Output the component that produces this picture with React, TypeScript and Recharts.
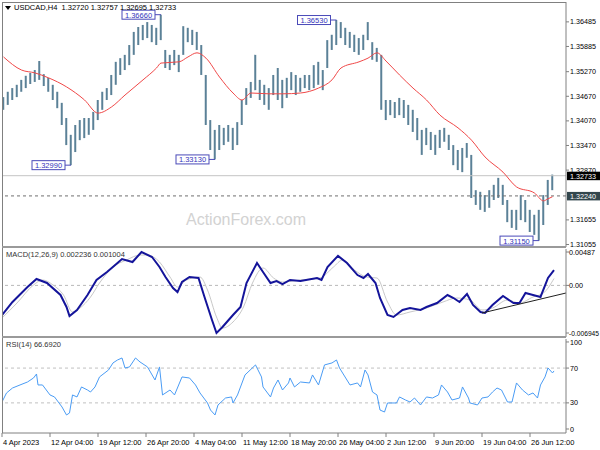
import React from 'react';
import {
    ComposedChart,
    Bar,
    Line,
    XAxis,
    YAxis,
    ReferenceLine,
    ReferenceDot
} from 'recharts';

const FONT = '"Liberation Sans", Arial, sans-serif';
const AXIS = '#808080';

// price bars, every 3rd H4 bar (k -> bar index 1 + 3k)
const barHighs = [
    1.3465, 1.3478, 1.3487, 1.3495, 1.3507, 1.3517, 1.3524, 1.3531, 1.3553, 1.3521,
    1.3512, 1.3495, 1.3478, 1.3451, 1.3414, 1.3373, 1.3397, 1.3409, 1.3414, 1.3414,
    1.3429, 1.3458, 1.3478, 1.3487, 1.3519, 1.3551, 1.3560, 1.3568, 1.3592, 1.3624,
    1.3636, 1.3641, 1.3648, 1.3641, 1.3634, 1.3666, 1.3580, 1.3568, 1.3580, 1.3568,
    1.3638, 1.3634, 1.3629, 1.3624, 1.3592, 1.3519, 1.3409, 1.3385, 1.3397, 1.3390,
    1.3397, 1.3390, 1.3404, 1.3458, 1.3487, 1.3502, 1.3568, 1.3507, 1.3495, 1.3487,
    1.3519, 1.3536, 1.3507, 1.3512, 1.3526, 1.3519, 1.3512, 1.3519, 1.3519, 1.3543,
    1.3551, 1.3531, 1.3604, 1.3617, 1.3653, 1.3648, 1.3634, 1.3624, 1.3617, 1.3609,
    1.3617, 1.3648, 1.3599, 1.3585, 1.3568, 1.3458, 1.3458, 1.3453, 1.3463, 1.3458,
    1.3446, 1.3434, 1.3414, 1.3385, 1.3390, 1.3380, 1.3373, 1.3385, 1.3390, 1.3373,
    1.3348, 1.3336, 1.3341, 1.3353, 1.3324, 1.3238, 1.3234, 1.3226, 1.3238, 1.3251,
    1.3268, 1.3251, 1.3214, 1.3190, 1.3190, 1.3226, 1.3214, 1.3190, 1.3178, 1.3190,
    1.3226, 1.3263, 1.3276
];
const barLows = [
    1.3434, 1.3446, 1.3458, 1.3465, 1.3478, 1.3487, 1.3497, 1.3502, 1.3507, 1.3492,
    1.3478, 1.3458, 1.3438, 1.3397, 1.3348, 1.3299, 1.3331, 1.3360, 1.3365, 1.3373,
    1.3385, 1.3409, 1.3434, 1.3458, 1.3470, 1.3495, 1.3519, 1.3531, 1.3543, 1.3568,
    1.3592, 1.3604, 1.3609, 1.3599, 1.3592, 1.3604, 1.3536, 1.3531, 1.3543, 1.3526,
    1.3568, 1.3599, 1.3592, 1.3580, 1.3519, 1.3397, 1.3336, 1.3313, 1.3336, 1.3348,
    1.3356, 1.3336, 1.3348, 1.3397, 1.3446, 1.3463, 1.3482, 1.3458, 1.3446, 1.3434,
    1.3470, 1.3458, 1.3438, 1.3463, 1.3482, 1.3470, 1.3478, 1.3487, 1.3482, 1.3487,
    1.3495, 1.3482, 1.3536, 1.3580, 1.3592, 1.3609, 1.3592, 1.3585, 1.3575, 1.3568,
    1.3580, 1.3604, 1.3556, 1.3551, 1.3434, 1.3409, 1.3421, 1.3414, 1.3421, 1.3414,
    1.3397, 1.3380, 1.3360, 1.3324, 1.3348, 1.3336, 1.3324, 1.3341, 1.3356, 1.3336,
    1.3299, 1.3287, 1.3282, 1.3317, 1.3219, 1.3202, 1.3190, 1.3185, 1.3195, 1.3214,
    1.3219, 1.3202, 1.3160, 1.3146, 1.3141, 1.3165, 1.3160, 1.3136, 1.3129, 1.3115,
    1.3153, 1.3202, 1.3238
];

// moving average, read at some of the bars above
const maBars = [0, 4, 7, 10, 14, 18, 21, 24, 27, 31, 34, 35, 39, 41, 43, 45, 48, 51, 53, 55, 59, 62, 66, 70, 73, 75, 79, 81, 83, 85, 88, 91, 94, 97, 101, 104, 107, 111, 114, 118, 120, 121, 122];
const maValues = [
    1.3563, 1.3531, 1.3524, 1.3512, 1.3490, 1.3458, 1.3426, 1.3441, 1.3470, 1.3507,
    1.3536, 1.3548, 1.3551, 1.3563, 1.3573, 1.3560, 1.3514, 1.3475, 1.3458, 1.3475,
    1.3473, 1.3473, 1.3475, 1.3487, 1.3507, 1.3536, 1.3551, 1.3560, 1.3573, 1.3553,
    1.3519, 1.3487, 1.3458, 1.3421, 1.3390, 1.3360, 1.3319, 1.3282, 1.3246, 1.3231,
    1.3212, 1.3217, 1.3222
];

const swingBars = [35, 15, 47, 74, 119];
const swingPrices = [1.3666, 1.3299, 1.3313, 1.3653, 1.3115];

const lastPrice = 1.32733;
const markPrice = 1.3224;
const priceTicks = [1.36485, 1.35885, 1.3527, 1.3467, 1.3407, 1.3347, 1.3287, 1.31655, 1.31055];

// MACD (bar index positions)
const macdAt = [0, 7, 17, 23, 30, 39, 43, 45, 50, 57, 63, 70, 77, 80, 87, 93, 100, 105, 109, 114, 117, 120, 125, 131, 135, 140, 143, 147, 154, 159, 163, 170, 174, 179, 183, 187, 192, 199, 210, 213, 217, 224, 230, 237, 241, 244, 249, 252, 257, 261, 267, 272, 279, 283, 290, 297, 301, 305, 310, 314, 319, 322, 327, 334, 341, 345, 349, 354, 359, 364, 368];
const macdValues = [
    -0.00432, -0.00242, -0.00024, 0.00093, 0.00035, -0.0014, -0.00315, -0.00447, -0.00359, -0.0014,
    0.00079, 0.00195, 0.00327, 0.00385, 0.00341, 0.00487, 0.00414, 0.00268, 0.00122, -0.00038,
    -0.00097, 0.00049, 0.00122, 0.00108, -0.0017, -0.00505, -0.00694, -0.00607, -0.00432, -0.00315,
    0.00035, 0.00327, 0.00195, 0.00035, 0.00064, 0.0002, 0.00079, 0.00064, 0.00108, 0.00079,
    0.00268, 0.0043, 0.00327, 0.00151, 0.00108, 0.00166, 0.00035, -0.00184, -0.00432, -0.00461,
    -0.00359, -0.0033, -0.00359, -0.00315, -0.00257, -0.0014, -0.00184, -0.00242, -0.00126, -0.00286,
    -0.00388, -0.00403, -0.00286, -0.00155, -0.00257, -0.00257, -0.00111, -0.0014, -0.00169, 0.00108,
    0.00224
];
const signalAt = [0, 10, 21, 27, 34, 41, 47, 52, 59, 65, 74, 83, 92, 97, 105, 112, 117, 123, 132, 137, 143, 147, 154, 161, 167, 174, 181, 187, 199, 212, 221, 227, 235, 243, 250, 257, 263, 272, 283, 294, 303, 312, 320, 327, 337, 345, 354, 361, 368];
const signalValues = [
    -0.00476, -0.00257, 0.00006, 0.00079, 0.00006, -0.0014, -0.00388, -0.0033, -0.0017, 0.00035,
    0.00268, 0.0037, 0.00443, 0.00443, 0.00341, 0.00122, -0.00024, 0.00079, 0.00122, -0.00067,
    -0.00461, -0.00622, -0.00534, -0.00315, 0.00035, 0.00254, 0.00108, 0.00049, 0.00079, 0.00108,
    0.00268, 0.0037, 0.00224, 0.00122, 0.00108, -0.00242, -0.00432, -0.00388, -0.0033, -0.00242,
    -0.00184, -0.00213, -0.00359, -0.0033, -0.00213, -0.00257, -0.00169, -0.00111, 0.001
];
const macdTrend = [[320, -0.00403], [376, -0.00111]];
const macdTicks = [0.00487, 0, -0.006945];
const macdTickLabels = ['0.00487', '0.00', '-0.006945'];

// RSI(14)
const rsiAt = [0, 3, 7, 12, 17, 21, 23, 24, 27, 32, 35, 40, 43, 45, 47, 50, 53, 57, 59, 62, 65, 71, 74, 77, 80, 82, 85, 89, 92, 97, 102, 105, 107, 112, 115, 120, 125, 129, 132, 137, 139, 142, 144, 149, 153, 154, 157, 162, 169, 173, 174, 179, 181, 184, 187, 191, 192, 195, 199, 205, 207, 211, 215, 220, 223, 225, 232, 237, 239, 242, 244, 247, 250, 252, 255, 257, 263, 265, 269, 272, 275, 279, 283, 287, 291, 293, 297, 300, 305, 307, 311, 312, 317, 320, 324, 327, 330, 333, 337, 340, 343, 347, 351, 354, 357, 359, 362, 364, 367, 368];
const rsiValues = [
    31.0, 41.4, 47.1, 50.6, 54.0, 58.6, 63.2, 50.6, 50.6, 39.1,
    36.8, 25.3, 16.1, 18.4, 39.1, 36.8, 48.3, 44.8, 42.5, 48.3,
    59.8, 67.8, 75.9, 79.3, 81.6, 70.1, 71.3, 81.6, 77.0, 71.3,
    56.3, 71.3, 39.1, 44.8, 39.1, 59.8, 58.6, 50.6, 41.4, 29.9,
    21.8, 16.1, 27.6, 35.6, 36.8, 29.9, 39.1, 62.1, 73.6, 59.8,
    48.3, 36.8, 47.1, 56.3, 44.8, 52.9, 58.6, 48.3, 54.0, 52.9,
    62.1, 50.6, 73.6, 75.9, 79.3, 70.1, 50.6, 52.9, 48.3, 67.8,
    62.1, 42.5, 39.1, 21.8, 19.5, 29.9, 29.9, 36.8, 33.3, 31.0,
    35.6, 27.6, 36.8, 35.6, 39.1, 50.6, 42.5, 33.3, 35.6, 48.3,
    35.6, 29.9, 27.6, 35.6, 36.8, 42.5, 47.1, 44.8, 31.0, 31.0,
    52.9, 44.8, 39.1, 41.4, 35.6, 50.6, 59.8, 70.1, 64.4, 66.7
];
const rsiTicks = [100, 70, 30, 0];

const timeTicks = [0, 32, 64, 96, 128, 160, 192, 224, 256, 288, 320, 352];
const timeLabels = ['4 Apr 2023', '12 Apr 04:00', '19 Apr 12:00', '26 Apr 20:00', '4 May 04:00', '11 May 12:00', '18 May 20:00', '26 May 04:00', '2 Jun 12:00', '9 Jun 20:00', '19 Jun 04:00', '26 Jun 12:00'];

const mainRows = barHighs.map((high, k) => {
    const m = maBars.indexOf(k);
    return { n: 1 + 3 * k, range: [barLows[k], high], ma: m >= 0 ? maValues[m] : null };
});

const macdRows = [
    ...macdAt.map((n, i) => ({ n, macd: macdValues[i] })),
    ...signalAt.map((n, i) => ({ n, signal: signalValues[i] }))
].sort((a, b) => a.n - b.n);

const rsiRows = rsiAt.map((n, i) => ({ n, rsi: rsiValues[i] }));

const tickStyle = { fontSize: 7.2, fill: '#000', fontFamily: FONT };

const SwingTag = (props: any) => {
    const { cx, cy, label } = props;
    const right = cx - 6;
    const w = 33;
    return (
        <g>
            <line x1={right} y1={cy} x2={cx} y2={cy} stroke="#4a4ab8" strokeWidth={1} />
            <rect x={right - w} y={cy - 4.5} width={w} height={9} fill="#fff" stroke="#4a4ab8" strokeWidth={1} />
            <text x={right - w / 2} y={cy + 3} textAnchor="middle" fontSize={7.5} fontFamily={FONT} fill="#3333bb">{label}</text>
        </g>
    );
};

const PriceTag = (props: any) => {
    const { viewBox, text, bg } = props;
    const x = viewBox.x + viewBox.width;
    const y = viewBox.y;
    return (
        <g>
            <rect x={x + 1} y={y - 4} width={33} height={8.5} fill={bg} />
            <text x={x + 4} y={y + 3} fontSize={7.2} fontFamily={FONT} fill="#fff">{text}</text>
        </g>
    );
};

const MacdTick = (props: any) => {
    const { x, y, payload } = props;
    const label = macdTickLabels[macdTicks.indexOf(payload.value)];
    const long = label.length > 7;
    return (
        <text
            x={x - 1}
            y={y}
            dy="0.355em"
            fontSize={7.2}
            fontFamily={FONT}
            fill="#000"
            textLength={long ? 30 : undefined}
            lengthAdjust="spacingAndGlyphs"
        >
            {label}
        </text>
    );
};

const TimeTick = (props: any) => {
    const { x, y, payload } = props;
    const i = timeTicks.indexOf(payload.value);
    return (
        <g>
            <line x1={x} y1={y} x2={x} y2={y + 4} stroke={AXIS} />
            <text x={x + 1} y={y + 12} fontSize={7.5} fontFamily={FONT} fill="#000">{timeLabels[i]}</text>
        </g>
    );
};

const rule = (left: number, top: number, width: number, height: number, color: string) => (
    <div style={{ position: 'absolute', left, top, width, height, background: color }} />
);

export default function App() {
    return (
        <div style={{ position: 'absolute', left: 0, top: 0, width: 600, height: 450, background: '#fff', fontFamily: FONT, overflow: 'hidden' }}>
            <div style={{ position: 'absolute', left: 186, top: 212, fontSize: 16, lineHeight: '16px', color: '#d2d2d2', fontFamily: FONT, whiteSpace: 'nowrap' }}>
                ActionForex.com
            </div>

            <div style={{ position: 'absolute', left: 0, top: 0 }}>
                <ComposedChart width={600} height={249} data={mainRows} margin={{ top: 2, right: 0, bottom: 2, left: 2 }}>
                    <XAxis dataKey="n" type="number" domain={[0, 376]} allowDataOverflow hide />
                    <YAxis
                        orientation="right"
                        type="number"
                        domain={[1.30994, 1.369696]}
                        allowDataOverflow
                        ticks={priceTicks}
                        interval={0}
                        width={34}
                        tickSize={3}
                        tickMargin={1}
                        tick={tickStyle}
                        tickLine={{ stroke: AXIS }}
                        axisLine={{ stroke: AXIS }}
                        tickFormatter={(v: number) => v.toFixed(5)}
                    />
                    <ReferenceLine y={lastPrice} stroke="#c4c4c4" label={<PriceTag text="1.32733" bg="#000" />} />
                    <ReferenceLine y={markPrice} stroke="#707070" strokeDasharray="3 3" label={<PriceTag text="1.32240" bg="#33474d" />} />
                    <Bar dataKey="range" barSize={2} fill="#5b8197" isAnimationActive={false} />
                    <Line dataKey="ma" type="monotone" stroke="#f04848" strokeWidth={1} dot={false} connectNulls isAnimationActive={false} />
                    {swingBars.map((k, i) => (
                        <ReferenceDot
                            key={k}
                            x={1 + 3 * k}
                            y={swingPrices[i]}
                            r={1}
                            shape={(p: any) => <SwingTag cx={p.cx} cy={p.cy} label={swingPrices[i].toFixed(5)} />}
                        />
                    ))}
                </ComposedChart>
            </div>

            <div style={{ position: 'absolute', left: 0, top: 249 }}>
                <ComposedChart width={600} height={88} data={macdRows} margin={{ top: 0, right: 0, bottom: 0, left: 2 }}>
                    <XAxis dataKey="n" type="number" domain={[0, 376]} allowDataOverflow hide />
                    <YAxis
                        orientation="right"
                        type="number"
                        domain={[-0.007528, 0.005308]}
                        allowDataOverflow
                        ticks={macdTicks}
                        interval={0}
                        width={34}
                        tickSize={3}
                        tickMargin={1}
                        tick={<MacdTick />}
                        tickLine={{ stroke: AXIS }}
                        axisLine={{ stroke: AXIS }}
                    />
                    <ReferenceLine y={0} stroke="#b8b8b8" strokeDasharray="3 3" />
                    <Line dataKey="signal" type="monotone" stroke="#c8c8c8" strokeWidth={1} dot={false} connectNulls isAnimationActive={false} />
                    <Line dataKey="macd" type="linear" stroke="#14149a" strokeWidth={2} dot={false} connectNulls isAnimationActive={false} />
                    <ReferenceLine
                        segment={[{ x: macdTrend[0][0], y: macdTrend[0][1] }, { x: macdTrend[1][0], y: macdTrend[1][1] }]}
                        stroke="#202020"
                        ifOverflow="visible"
                    />
                </ComposedChart>
            </div>

            <div style={{ position: 'absolute', left: 0, top: 339 }}>
                <ComposedChart width={600} height={111} data={rsiRows} margin={{ top: 0, right: 0, bottom: 0, left: 2 }}>
                    <XAxis
                        dataKey="n"
                        type="number"
                        domain={[0, 376]}
                        allowDataOverflow
                        ticks={timeTicks}
                        interval={0}
                        height={17}
                        tickSize={0}
                        tickMargin={0}
                        tickLine={false}
                        axisLine={{ stroke: AXIS }}
                        tick={<TimeTick />}
                    />
                    <YAxis
                        orientation="right"
                        type="number"
                        domain={[-4.6, 103.4]}
                        allowDataOverflow
                        ticks={rsiTicks}
                        interval={0}
                        width={34}
                        tickSize={3}
                        tickMargin={1}
                        tick={tickStyle}
                        tickLine={{ stroke: AXIS }}
                        axisLine={{ stroke: AXIS }}
                    />
                    <ReferenceLine y={70} stroke="#c0c0c0" strokeDasharray="3 3" />
                    <ReferenceLine y={30} stroke="#c0c0c0" strokeDasharray="3 3" />
                    <Line dataKey="rsi" type="linear" stroke="#4a9cf5" strokeWidth={1} dot={false} isAnimationActive={false} />
                </ComposedChart>
            </div>

            {rule(2, 2, 564, 1, AXIS)}
            {rule(2, 2, 1, 431, AXIS)}
            {rule(2, 246, 564, 2, '#9a9a9a')}
            {rule(2, 336, 564, 2, '#9a9a9a')}

            <svg style={{ position: 'absolute', left: 5, top: 6 }} width={6} height={5}>
                <polygon points="0,0 6,0 3,4" fill="#000" />
            </svg>
            <div style={{ position: 'absolute', left: 14, top: 3, fontSize: 7.5, lineHeight: '9px', color: '#000', whiteSpace: 'pre' }}>
                USDCAD,H4  1.32720 1.32757 1.32695 1.32733
            </div>
            <div style={{ position: 'absolute', left: 6, top: 250, fontSize: 7.5, lineHeight: '9px', color: '#333', whiteSpace: 'pre' }}>
                MACD(12,26,9) 0.002236 0.001004
            </div>
            <div style={{ position: 'absolute', left: 6, top: 340, fontSize: 7.5, lineHeight: '9px', color: '#333', whiteSpace: 'pre' }}>
                RSI(14) 66.6920
            </div>
        </div>
    );
}
